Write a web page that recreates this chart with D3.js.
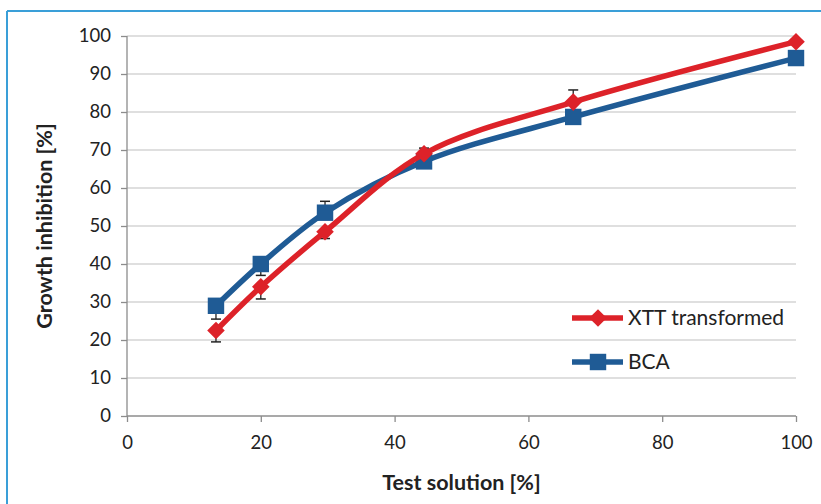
<!DOCTYPE html>
<html><head><meta charset="utf-8">
<script src="https://cdn.jsdelivr.net/npm/d3@7"></script>
<style>body{margin:0;background:#fff}svg{display:block}</style>
</head><body>
<svg id="c" width="821" height="504"></svg>
<script>
const concentrations = [13.3, 20, 29.6, 44.4, 66.7, 100];
const xttValues = [22.5, 34, 48.5, 69, 82.6, 98.5];
const xttErrUp = [0, 0, 0, 1.5, 3.2, 0.5];
const xttErrDown = [3, 3.2, 1.8, 0, 0, 0];
const bcaValues = [29, 40, 53.5, 67, 78.7, 94.2];
const bcaErrUp = [0, 0, 3, 0, 1.5, 1];
const bcaErrDown = [3.5, 3, 0, 1, 0, 0];
const xTicks = [0, 20, 40, 60, 80, 100];
const yTicks = [0, 10, 20, 30, 40, 50, 60, 70, 80, 90, 100];
const seriesNames = ["XTT transformed", "BCA"];

const svg = d3.select("#c");
const font = "Lato, 'Open Sans', sans-serif";
const x = d3.scaleLinear().domain([0, 100]).range([127, 796]);
const y = d3.scaleLinear().domain([0, 100]).range([416, 36]);

// frame (top and left only visible)
svg.append("line").attr("x1", 7).attr("x2", 821).attr("y1", 11).attr("y2", 11).attr("stroke", "#3a9fd8").attr("stroke-width", 2);
svg.append("line").attr("x1", 7).attr("x2", 7).attr("y1", 11).attr("y2", 504).attr("stroke", "#3a9fd8").attr("stroke-width", 2);

// gridlines
svg.append("g").selectAll("line").data(yTicks.filter(d => d > 0)).join("line")
  .attr("x1", x(0)).attr("x2", x(100)).attr("y1", d => y(d)).attr("y2", d => y(d))
  .attr("stroke", "#d4d4d4").attr("stroke-width", 1.3);

// axes
const yAxis = svg.append("g").attr("transform", `translate(${x(0)},0)`)
  .call(d3.axisLeft(y).tickValues(yTicks).tickSize(6).tickPadding(10));
const xAxis = svg.append("g").attr("transform", `translate(0,${y(0)})`)
  .call(d3.axisBottom(x).tickValues(xTicks).tickSize(6).tickPadding(14));
[yAxis, xAxis].forEach(a => {
  a.selectAll("path,line").attr("stroke", "#8c8c8c").attr("stroke-width", 1.3);
  a.selectAll("text").attr("font-family", font).attr("font-size", 18.5).attr("fill", "#222");
});
xAxis.select(".domain").attr("d", `M${x(0)},0H${x(100)}`);
yAxis.select(".domain").attr("d", `M0,${y(0)}V${y(100)}`);

// axis titles
svg.append("text").attr("x", x(50)).attr("y", 490).attr("text-anchor", "middle")
  .attr("font-family", font).attr("font-weight", "bold").attr("font-size", 21.5).attr("fill", "#222")
  .text("Test solution [%]");
svg.append("text").attr("transform", `translate(52,${y(50)}) rotate(-90)`).attr("text-anchor", "middle")
  .attr("font-family", font).attr("font-weight", "bold").attr("font-size", 21.5).attr("fill", "#222")
  .text("Growth inhibition [%]");

const series = [
  {name: seriesNames[0], vals: xttValues, up: xttErrUp, down: xttErrDown, color: "#dd2229", shape: d3.symbolSquare, size: 155, rot: 45},
  {name: seriesNames[1], vals: bcaValues, up: bcaErrUp, down: bcaErrDown, color: "#1f5b95", shape: d3.symbolSquare, size: 270, rot: 0}
];
const line = d3.line().x(d => x(d[0])).y(d => y(d[1])).curve(d3.curveCatmullRom.alpha(0.5));

// error bars
series.forEach(s => {
  const g = svg.append("g");
  concentrations.forEach((c, i) => {
    const lo = s.vals[i] - s.down[i], hi = s.vals[i] + s.up[i];
    g.append("line").attr("x1", x(c)).attr("x2", x(c)).attr("y1", y(lo)).attr("y2", y(hi)).attr("stroke", "#222").attr("stroke-width", 1.3);
    if (s.down[i] > 0) g.append("line").attr("x1", x(c) - 5).attr("x2", x(c) + 5).attr("y1", y(lo)).attr("y2", y(lo)).attr("stroke", "#222").attr("stroke-width", 1.5);
    if (s.up[i] > 0) g.append("line").attr("x1", x(c) - 5).attr("x2", x(c) + 5).attr("y1", y(hi)).attr("y2", y(hi)).attr("stroke", "#222").attr("stroke-width", 1.5);
  });
});

// lines + markers
[series[1], series[0]].forEach(s => {
  const pts = concentrations.map((c, i) => [c, s.vals[i]]);
  svg.append("path").attr("d", line(pts)).attr("fill", "none").attr("stroke", s.color).attr("stroke-width", 5.5);
  svg.append("g").selectAll("path").data(pts).join("path")
    .attr("transform", d => `translate(${x(d[0])},${y(d[1])}) rotate(${s.rot})`)
    .attr("d", d3.symbol().type(s.shape).size(s.size)).attr("fill", s.color);
});

// legend
const legY = [318, 362];
series.forEach((s, i) => {
  const g = svg.append("g").attr("transform", `translate(572,${legY[i]})`);
  g.append("line").attr("x1", 0).attr("x2", 51).attr("stroke", s.color).attr("stroke-width", 5.5);
  g.append("path").attr("transform", `translate(26,0) rotate(${s.rot})`).attr("d", d3.symbol().type(s.shape).size(s.size)).attr("fill", s.color);
  g.append("text").attr("x", 56).attr("y", 7).attr("font-family", font).attr("font-size", 21).attr("fill", "#222").text(s.name);
});
</script>
</body></html>
